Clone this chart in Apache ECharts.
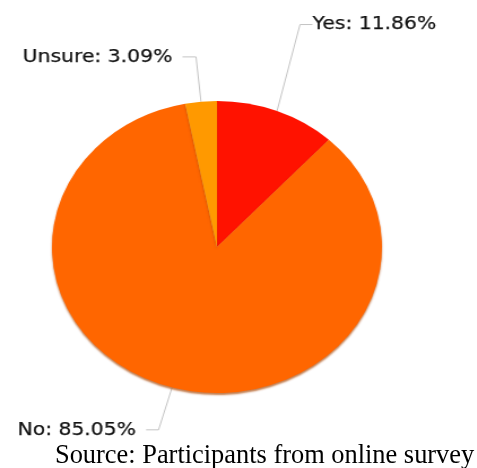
<!DOCTYPE html>
<html>
<head>
<meta charset="utf-8">
<script src="https://cdn.jsdelivr.net/npm/echarts@6/dist/echarts.min.js"></script>
<style>
html,body{margin:0;padding:0;background:#fff;overflow:hidden;}
#wrap{position:relative;width:477px;height:468px;}
#pie{position:absolute;left:0;top:0;width:422px;height:468px;transform:scaleX(1.13);transform-origin:0 0;}
#src{position:absolute;left:0;top:0;width:477px;height:468px;pointer-events:none;}
</style>
</head>
<body>
<div id="wrap"><div id="pie"></div><div id="src"></div></div>
<script>
const categories = ['Yes', 'No', 'Unsure'];
const values = [11.86, 85.05, 3.09];
const colors = ['#FF1200', '#FF6600', '#FF9900'];
const sourceText = 'Source: Participants from online survey';

const lineLens = [95, 44, 45];
const lineLens2 = [11, 11, 12];
const labelDists = [2, 9, 9];

const data = categories.map((c, i) => ({
  name: c,
  value: values[i],
  itemStyle: { color: colors[i] },
  labelLine: { length: lineLens[i], length2: lineLens2[i] },
  label: { distanceToLabelLine: labelDists[i] }
}));

const pie = echarts.init(document.getElementById('pie'), null, { renderer: 'canvas' });
pie.setOption({
  animation: false,
  series: [{
    type: 'pie',
    center: [192, 247],
    radius: 146,
    startAngle: 90,
    clockwise: true,
    avoidLabelOverlap: false,
    data: data,
    itemStyle: {
      borderWidth: 0,
      shadowColor: 'rgba(170,70,0,0.7)',
      shadowBlur: 2,
      shadowOffsetY: 2
    },
    label: {
      show: true,
      formatter: p => p.name + ': ' + p.value.toFixed(2) + '%',
      fontFamily: 'DejaVu Sans',
      fontSize: 18,
      color: '#111',
      textBorderColor: '#222',
      textBorderWidth: 0.25
    },
    labelLine: {
      show: true,
      lineStyle: { color: '#c4c4c4', width: 1 }
    },
    labelLayout: function (params) {
      if (params.dataIndex === 0) {
        return {
          x: params.labelRect.x - 16,
          y: params.labelRect.y + params.labelRect.height / 2 + 2
        };
      }
      return {};
    },
    emphasis: { disabled: true }
  }]
});

const src = echarts.init(document.getElementById('src'), null, { renderer: 'canvas' });
src.setOption({
  animation: false,
  title: {
    text: sourceText,
    left: 55,
    top: 443,
    padding: 0,
    textStyle: {
      fontFamily: 'Liberation Serif',
      fontSize: 26.4,
      fontWeight: 'normal',
      color: '#000'
    }
  }
});
</script>
</body>
</html>
